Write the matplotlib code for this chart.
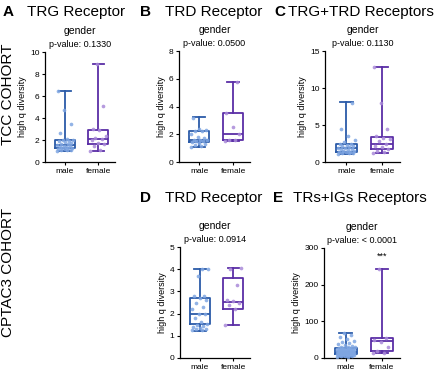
import numpy as np
import matplotlib.pyplot as plt

plt.rcParams['font.family'] = ['Liberation Sans', 'DejaVu Sans']

W, H = 440, 372

male_col, male_pt = '#2b5ba8', '#7fa6e2'
fem_col, fem_pt = '#5a2ea6', '#a98ad9'

groups = ['male', 'female']

# box stats: (low whisker, q1, median, q3, high whisker)
a_male_stats = (1.0, 1.3, 1.55, 2.0, 6.5)
a_fem_stats = (1.0, 1.6, 2.1, 2.9, 8.9)
a_male_pts = [1.0, 1.05, 1.1, 1.1, 1.15, 1.2, 1.25, 1.3, 1.3, 1.35, 1.4, 1.45, 1.5, 1.55,
              1.6, 1.65, 1.7, 1.8, 1.9, 1.95, 2.0, 2.0, 2.1, 2.6, 3.5, 4.7, 6.5]
a_fem_pts = [1.0, 1.1, 1.5, 1.6, 1.7, 2.0, 2.1, 2.2, 2.4, 2.9, 3.0, 5.1, 8.9]

b_male_stats = (1.1, 1.45, 1.6, 2.2, 3.25)
b_fem_stats = (1.5, 1.55, 2.05, 3.5, 5.8)
b_male_pts = [1.1, 1.15, 1.2, 1.3, 1.4, 1.45, 1.5, 1.5, 1.55, 1.6, 1.6, 1.7, 1.8, 2.0,
              2.2, 2.2, 2.3, 2.4, 3.2]
b_fem_pts = [1.5, 1.55, 1.6, 2.05, 2.5, 3.5, 5.8]

c_male_stats = (1.1, 1.4, 1.85, 2.4, 8.05)
c_fem_stats = (1.15, 1.75, 2.5, 3.35, 12.9)
c_male_pts = [1.1, 1.15, 1.2, 1.25, 1.3, 1.35, 1.4, 1.45, 1.5, 1.6, 1.7, 1.8, 1.85, 1.9,
              2.0, 2.1, 2.2, 2.3, 2.4, 2.5, 2.7, 3.0, 3.5, 4.5, 8.0]
c_fem_pts = [1.2, 1.3, 1.5, 1.8, 2.0, 2.2, 2.5, 2.8, 3.1, 3.3, 3.5, 4.4, 8.0, 12.9]

d_male_stats = (1.23, 1.52, 2.0, 2.7, 4.02)
d_fem_stats = (1.5, 2.22, 2.52, 3.62, 4.05)
d_male_pts = [1.25, 1.25, 1.3, 1.3, 1.35, 1.4, 1.45, 1.5, 1.55, 1.6, 1.8, 2.0, 2.0, 2.2,
              2.3, 2.5, 2.6, 2.7, 2.8, 2.8, 3.7, 4.0, 4.0]
d_fem_pts = [1.5, 2.2, 2.4, 2.5, 2.55, 2.6, 3.3, 4.0, 4.05]

e_male_stats = (3, 11, 17, 27, 68)
e_fem_stats = (12.5, 19, 46, 54, 243)
e_male_pts = [3, 4, 5, 5, 6, 7, 7, 8, 8, 9, 9, 10, 10, 11, 11, 11, 12, 12, 12, 13, 13, 13,
              14, 14, 14, 15, 15, 15, 16, 16, 16, 17, 17, 17, 18, 18, 18, 19, 19, 20, 20,
              21, 21, 22, 22, 23, 23, 24, 24, 25, 25, 26, 27, 27, 28, 29, 30, 31, 33, 35,
              37, 40, 43, 47, 52, 58, 63, 68]
e_fem_pts = [12.5, 15, 20, 30, 45, 50, 55, 243]

panels = [
    # letter, title, letter x, title x, title y, axes px (l, t, r, b), yticks, pval, data
    ('A', 'TRG Receptor', 3, 27, 12, (45, 52, 115, 162), [0, 2, 4, 6, 8, 10], '0.1330',
     a_male_stats, a_fem_stats, a_male_pts, a_fem_pts),
    ('B', 'TRD Receptor', 140, 165, 12, (179, 51, 250, 162), [0, 2, 4, 6, 8], '0.0500',
     b_male_stats, b_fem_stats, b_male_pts, b_fem_pts),
    ('C', 'TRG+TRD Receptors', 274, 288, 12, (325, 51, 400, 162), [0, 5, 10, 15], '0.1130',
     c_male_stats, c_fem_stats, c_male_pts, c_fem_pts),
    ('D', 'TRD Receptor', 140, 165, 198, (180, 247, 250, 358), [0, 1, 2, 3, 4, 5], '0.0914',
     d_male_stats, d_fem_stats, d_male_pts, d_fem_pts),
    ('E', 'TRs+IGs Receptors', 273, 293, 198, (324, 248, 400, 358), [0, 100, 200, 300],
     '< 0.0001', e_male_stats, e_fem_stats, e_male_pts, e_fem_pts),
]

fig = plt.figure(figsize=(W / 100, H / 100), dpi=100)


def jitter(n, width):
    # deterministic spread of the dots across the box
    k = np.arange(n)
    return ((k * 0.618) % 1 - 0.5) * width


for (letter, title, lx, tx, ty, box, yt, pval,
     ms, fs, mp, fp) in panels:
    l, t, r, b = box
    ax = fig.add_axes([l / W, 1 - b / H, (r - l) / W, (b - t) / H])
    stats = []
    for s, lab in zip([ms, fs], groups):
        stats.append(dict(whislo=s[0], q1=s[1], med=s[2], q3=s[3], whishi=s[4], label=lab))
    for i, (pts, pc) in enumerate([(mp, male_pt), (fp, fem_pt)]):
        ax.scatter(i + 1 + jitter(len(pts), 0.5), pts, s=7, color=pc, alpha=0.85,
                   lw=0, zorder=3)
    bp = ax.bxp(stats, positions=[1, 2], widths=0.6, showfliers=False,
                patch_artist=False, capwidths=0.35)
    for i, c in enumerate([male_col, fem_col]):
        bp['boxes'][i].set(color=c, lw=1.3)
        bp['medians'][i].set(color=c, lw=1.3)
        for k in (2 * i, 2 * i + 1):
            bp['whiskers'][k].set(color=c, lw=1.3)
            bp['caps'][k].set(color=c, lw=1.3)
    ax.set_xlim(0.4, 2.5)
    ax.set_ylim(yt[0], yt[-1])
    ax.set_yticks(yt)
    ax.set_xticks([1, 2])
    ax.set_xticklabels(groups)
    ax.tick_params(labelsize=6, length=2.5, width=0.8, pad=1.5)
    ax.spines[['top', 'right']].set_visible(False)
    ax.spines[['left', 'bottom']].set_linewidth(0.9)
    ax.set_ylabel('high q diversity', fontsize=6.5, labelpad=2)
    ax.text(0.5, 1.19, 'gender', transform=ax.transAxes, ha='center', va='center',
            fontsize=7.5)
    ax.text(0.5, 1.07, 'p-value: ' + pval, transform=ax.transAxes, ha='center',
            va='center', fontsize=6.5)
    if letter == 'E':
        ax.text(2, 278, '***', ha='center', va='center', fontsize=6.5, clip_on=False)
    fig.text(lx / W, 1 - ty / H, letter, fontsize=11, fontweight='bold', va='center')
    fig.text(tx / W, 1 - ty / H, title, fontsize=11, va='center')

fig.text(1 / W, 1 - 94 / H, 'TCC COHORT', rotation=90, fontsize=11,
         ha='left', va='center')
fig.text(1 / W, 1 - 272 / H, 'CPTAC3 COHORT', rotation=90, fontsize=11,
         ha='left', va='center')

fig.savefig('out.png', dpi=100)
